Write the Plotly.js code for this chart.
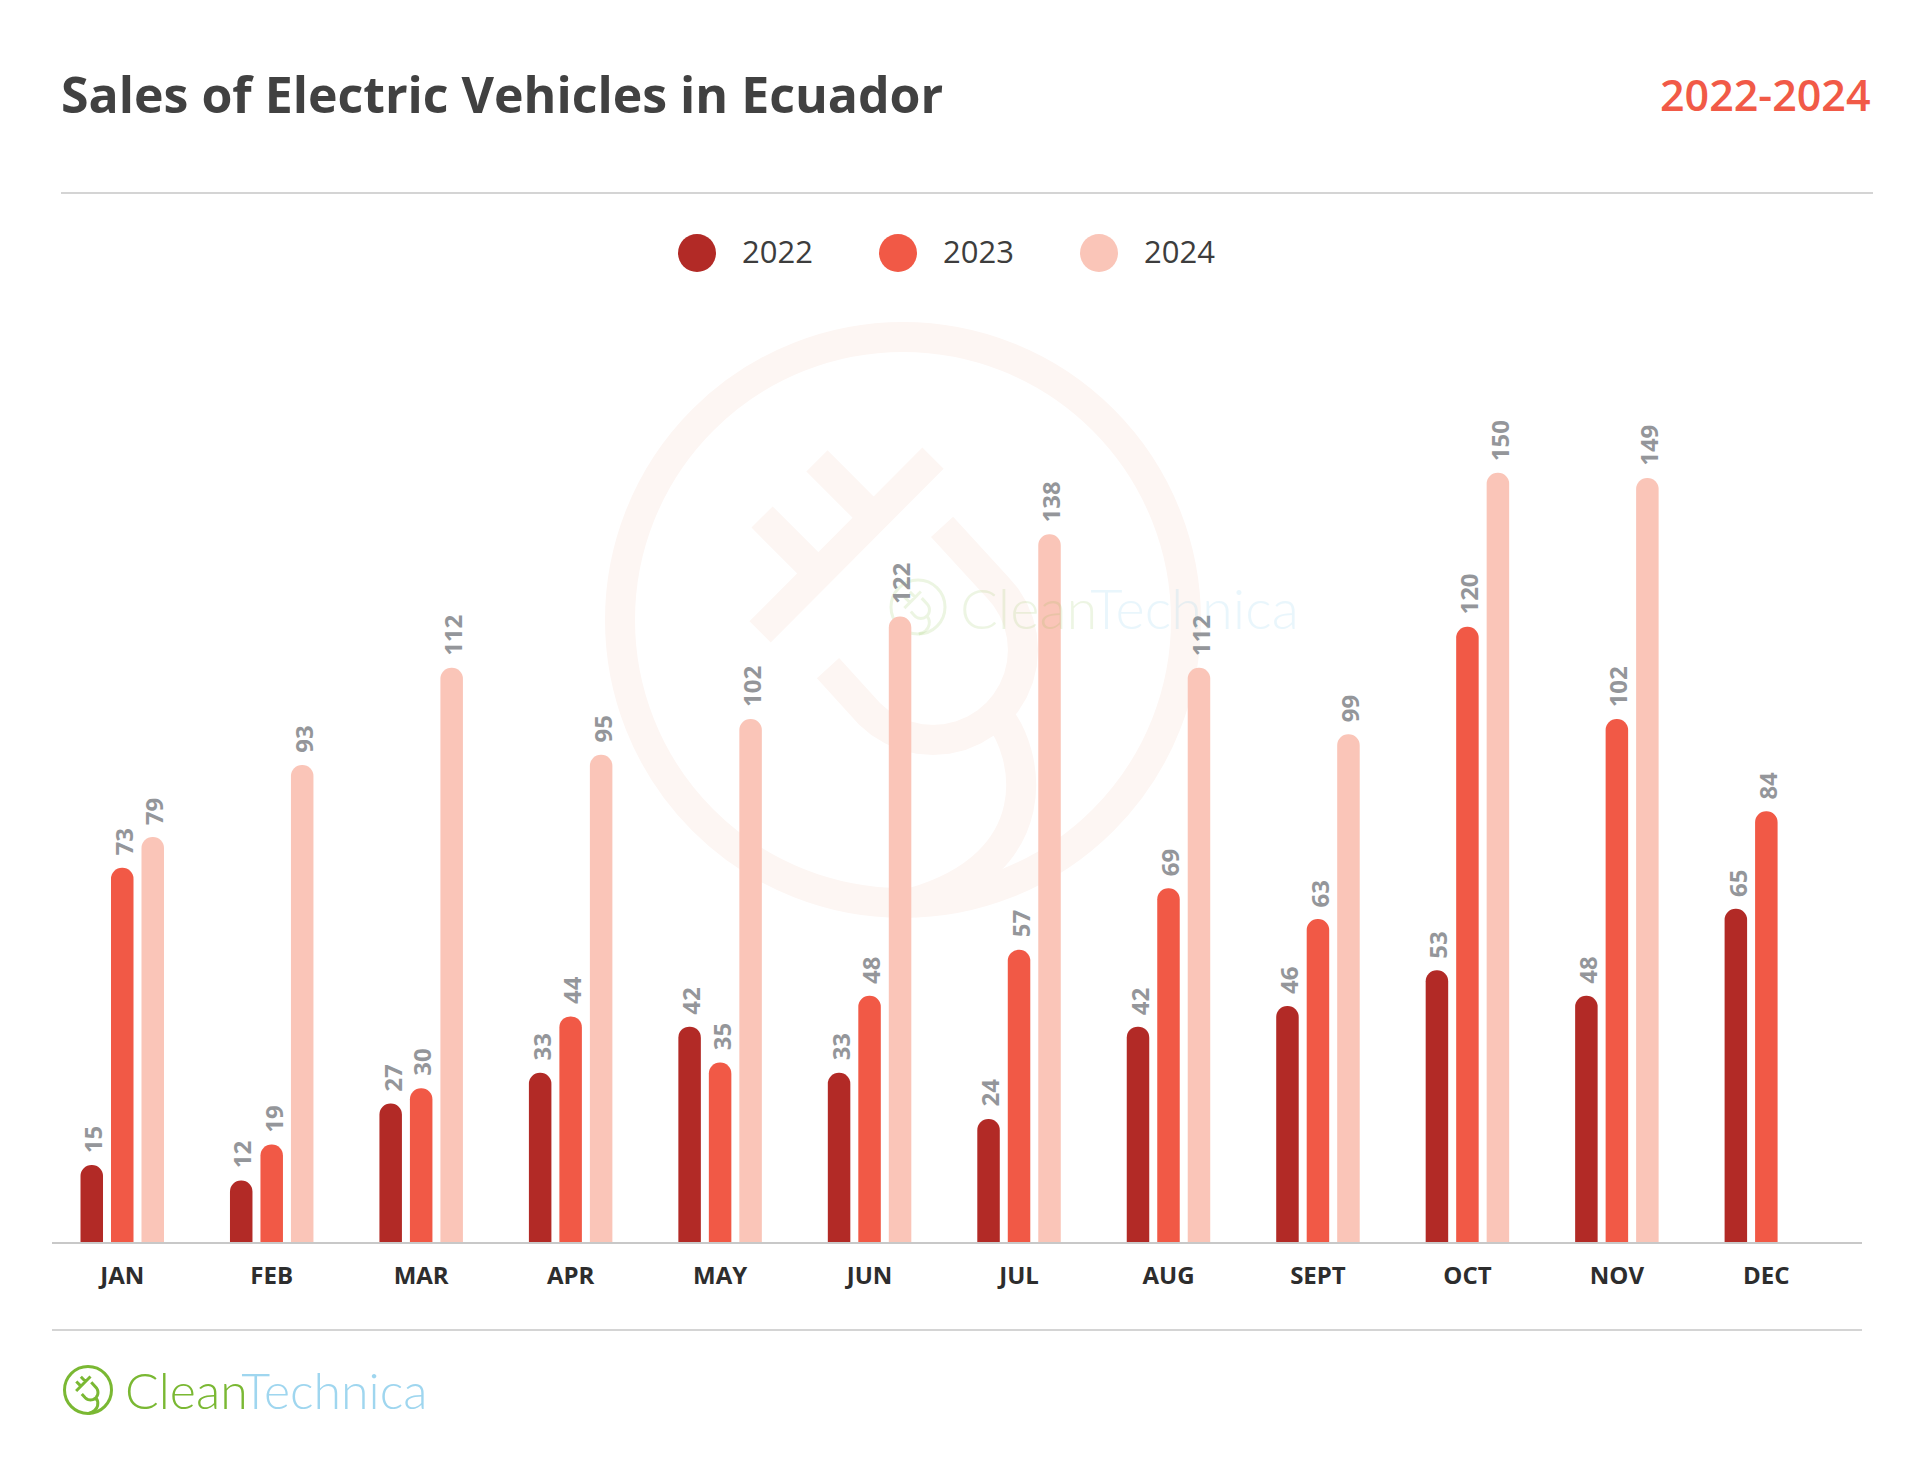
<!DOCTYPE html>
<html>
<head>
<meta charset="utf-8">
<script src="https://cdn.plot.ly/plotly-3.0.1.min.js"></script>
<style>
  html, body { margin: 0; padding: 0; background: #ffffff; }
  #chart { width: 1913px; height: 1481px; }
</style>
</head>
<body>
<div id="chart"></div>
<script>
// ---------------- DATA ----------------
const months = ['JAN', 'FEB', 'MAR', 'APR', 'MAY', 'JUN', 'JUL', 'AUG', 'SEPT', 'OCT', 'NOV', 'DEC'];
const seriesNames = ['2022', '2023', '2024'];
const sales2022 = [15, 12, 27, 33, 42, 33, 24, 42, 46, 53, 48, 65];
const sales2023 = [73, 19, 30, 44, 35, 48, 57, 69, 63, 120, 102, 84];
const sales2024 = [79, 93, 112, 95, 102, 122, 138, 112, 99, 150, 149, null];
const titleText = 'Sales of Electric Vehicles in Ecuador';
const subtitleText = '2022-2024';
const brandA = 'Clean';
const brandB = 'Technica';

// ---------------- STYLE ----------------
const colors = ['#b22a26', '#f15946', '#fac5b8'];
const W = 1913, H = 1481;
const M = { l: 52, r: 51, t: 319, b: 239 };
const PW = W - M.l - M.r, PH = H - M.t - M.b;
const X = x => (x - M.l) / PW;          // pixel -> paper x
const Y = y => (H - M.b - y) / PH;      // pixel -> paper y
const xRange = [-0.47, 11.64];
const bargap = 0.388, bargroupgap = 0.262;
const catPx = PW / (xRange[1] - xRange[0]);
const slotPx = (1 - bargap) * catPx / 3;

const allSeries = [sales2022, sales2023, sales2024];
const traces = allSeries.map((vals, i) => ({
  type: 'bar',
  name: seriesNames[i],
  x: months,
  y: vals,
  marker: { color: colors[i], cornerradius: '50%', line: { width: 0 } },
  showlegend: false,
  hoverinfo: 'skip'
}));

// plug glyph relative to a circle (centre cx,cy ; radius R)
function plugPath(cx, cy, R) {
  const P = (a, b) => X(cx + a * R).toFixed(5) + ',' + Y(cy + b * R).toFixed(5);
  let d = 'M' + P(-0.505, 0.042) + ' L' + P(0.106, -0.572);
  d += ' M' + P(-0.498, -0.364) + ' L' + P(-0.300, -0.166);
  d += ' M' + P(-0.304, -0.562) + ' L' + P(-0.106, -0.364);
  d += ' M' + P(-0.265, 0.170);
  for (let t = 135; t >= -45; t -= 9) {
    const r = t * Math.PI / 180;
    d += ' L' + P(0.106 + 0.318 * Math.cos(r), 0.106 + 0.318 * Math.sin(r));
  }
  d += ' L' + P(0.138, -0.329);
  d += ' M' + P(0.331, 0.331) + ' C' + P(0.45, 0.47) + ' ' + P(0.52, 0.86) + ' ' + P(0.03, 1.0);
  return d;
}
function circleShape(cx, cy, r, color, width) {
  return { type: 'circle', xref: 'paper', yref: 'paper', layer: 'below',
    x0: X(cx - r), x1: X(cx + r), y0: Y(cy + r), y1: Y(cy - r),
    line: { color: color, width: width }, fillcolor: 'rgba(0,0,0,0)' };
}

const shapes = [];
// separators
shapes.push({ type: 'line', xref: 'paper', yref: 'paper', x0: X(61), x1: X(1873), y0: Y(193), y1: Y(193), line: { color: '#d4d4d4', width: 2 } });
shapes.push({ type: 'line', xref: 'paper', yref: 'paper', x0: X(52), x1: X(1862), y0: Y(1330), y1: Y(1330), line: { color: '#d4d4d4', width: 2 } });
// watermark
const wm = '#fdf6f3';
shapes.push(circleShape(903, 620, 283, wm, 30));
shapes.push({ type: 'path', xref: 'paper', yref: 'paper', layer: 'below', path: plugPath(903, 620, 283), line: { color: wm, width: 30 } });
shapes.push(circleShape(918, 607, 27, 'rgba(122,184,51,0.14)', 3));
shapes.push({ type: 'path', xref: 'paper', yref: 'paper', layer: 'below', path: plugPath(918, 607, 27), line: { color: 'rgba(122,184,51,0.14)', width: 3 } });
// footer logo
shapes.push(circleShape(88, 1390, 23.5, '#7ab833', 3));
shapes.push({ type: 'path', xref: 'paper', yref: 'paper', path: plugPath(88, 1390, 23.5), line: { color: '#7ab833', width: 3 } });
// legend markers
const legendX = [697, 898, 1099];
const legendY = 253;
legendX.forEach((lx, i) => {
  shapes.push({ type: 'circle', xref: 'paper', yref: 'paper',
    x0: X(lx - 19), x1: X(lx + 19), y0: Y(legendY + 19), y1: Y(legendY - 19),
    fillcolor: colors[i], line: { width: 0 } });
});

const annotations = [];
annotations.push({ xref: 'paper', yref: 'paper', x: X(1873), y: Y(95), xanchor: 'right', yanchor: 'middle',
  text: subtitleText, showarrow: false,
  font: { family: 'Open Sans', size: 43, color: '#f15a47', weight: 600 } });
legendX.forEach((lx, i) => {
  annotations.push({ xref: 'paper', yref: 'paper', x: X(lx + 43), y: Y(legendY - 2), xanchor: 'left', yanchor: 'middle',
    text: seriesNames[i], showarrow: false,
    font: { family: 'Open Sans', size: 31, color: '#3d3d3d' } });
});
// value labels above each bar (positioned by the axes)
allSeries.forEach((vals, i) => {
  vals.forEach((v, j) => {
    if (v === null || v === undefined) return;
    annotations.push({ xref: 'x', yref: 'y', x: months[j], y: v,
      xshift: (i - 1) * slotPx + 1, yshift: 10,
      xanchor: 'center', yanchor: 'bottom', textangle: -90,
      text: String(v), showarrow: false,
      font: { family: 'Open Sans', size: 24, color: '#94969a', weight: 700 } });
  });
});
// watermark text
annotations.push({ xref: 'paper', yref: 'paper', x: X(958), y: Y(607), xanchor: 'left', yanchor: 'middle',
  text: brandA + '<span style="color:#5cbde9">' + brandB + '</span>', showarrow: false, opacity: 0.13,
  font: { family: 'Lato', size: 56, color: '#7ab833', weight: 300 } });
// footer brand text
annotations.push({ xref: 'paper', yref: 'paper', x: X(123), y: Y(1390), xanchor: 'left', yanchor: 'middle',
  text: brandA + '<span style="color:#9fd6ef">' + brandB + '</span>', showarrow: false,
  font: { family: 'Lato', size: 50, color: '#7ab833', weight: 300 } });

const layout = {
  width: W, height: H,
  margin: M,
  paper_bgcolor: '#ffffff',
  plot_bgcolor: 'rgba(0,0,0,0)',
  title: {
    text: titleText,
    x: 61 / W, xanchor: 'left', xref: 'container',
    y: 1 - 95 / H, yanchor: 'middle', yref: 'container',
    font: { family: 'Open Sans', size: 50, color: '#414141', weight: 700 }
  },
  barmode: 'group',
  bargap: bargap,
  bargroupgap: bargroupgap,
  showlegend: false,
  xaxis: {
    type: 'category',
    range: xRange,
    showline: true, linecolor: '#c8c8c8', linewidth: 2,
    showgrid: false, zeroline: false, ticks: '',
    ticklabelstandoff: 11,
    tickfont: { family: 'Open Sans', size: 24, color: '#2d2d2d', weight: 700 }
  },
  yaxis: {
    range: [0, 180],
    visible: false, showgrid: false, zeroline: false
  },
  shapes: shapes,
  annotations: annotations,
  font: { family: 'Open Sans' }
};

Plotly.newPlot('chart', traces, layout, { staticPlot: true, displayModeBar: false });
</script>
</body>
</html>
